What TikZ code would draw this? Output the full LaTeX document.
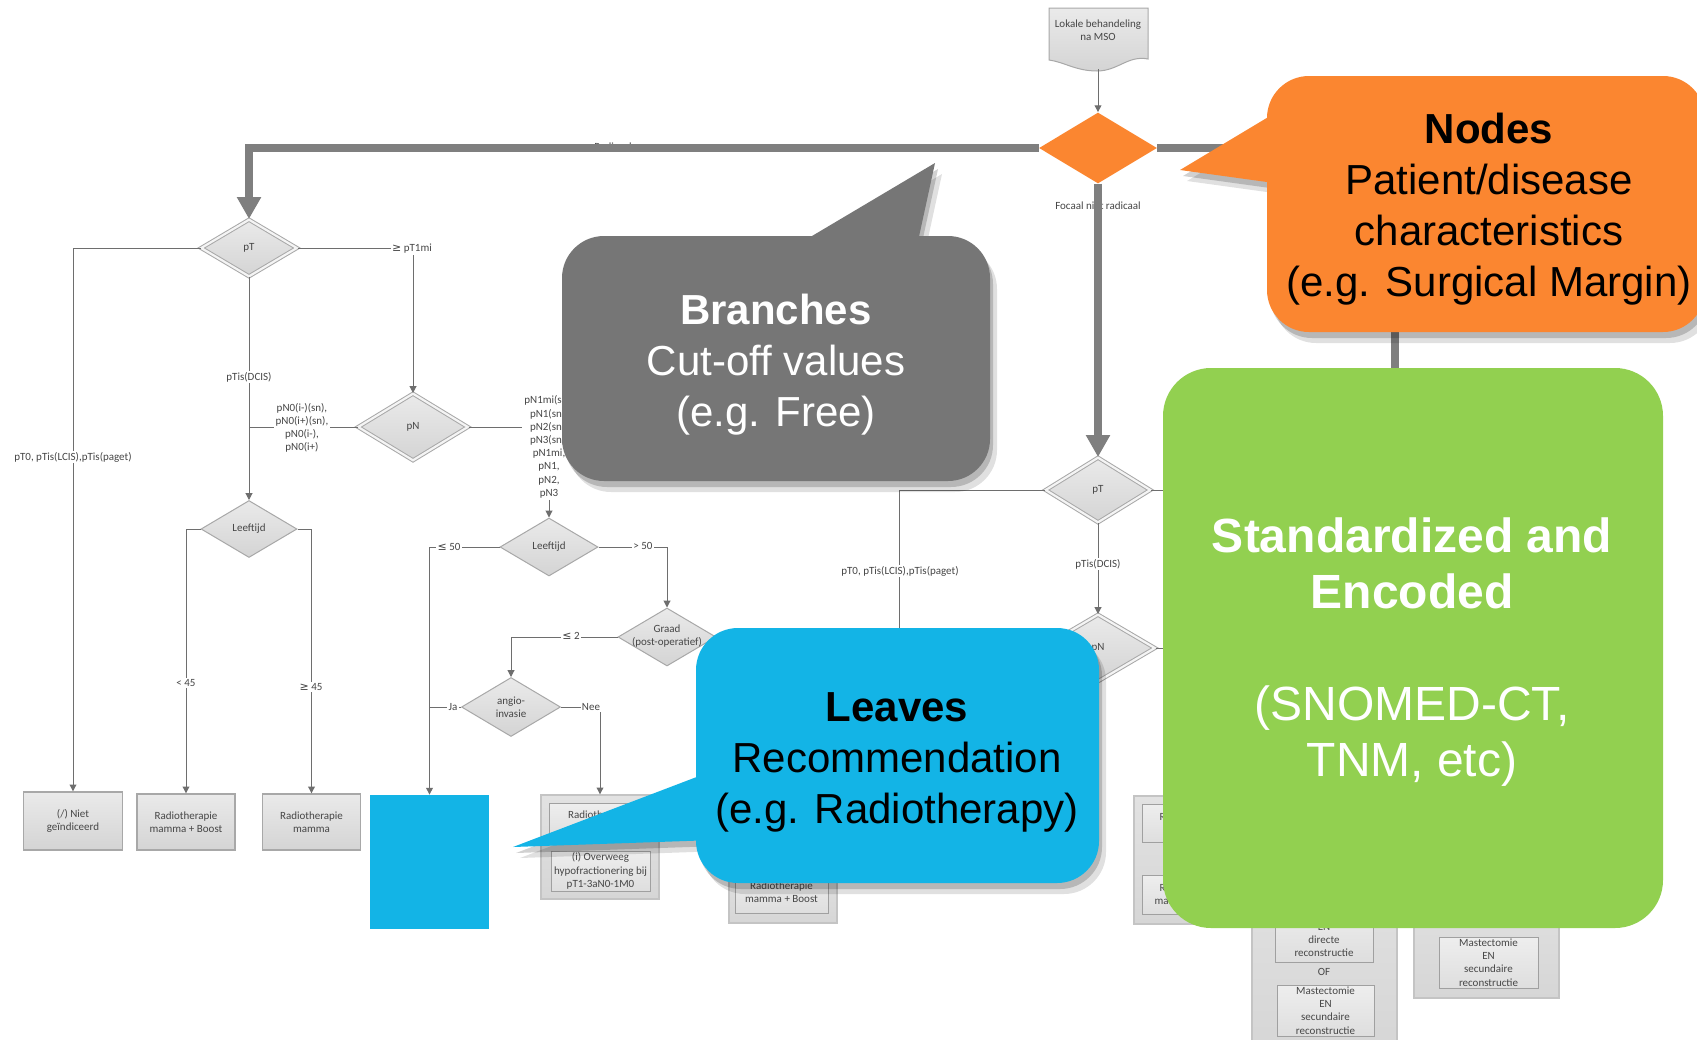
\documentclass[tikz,border=0pt]{standalone}
\usepackage{fontspec}
\setmainfont{Liberation Sans}
\newfontfamily\fcfont{Carlito}
\newfontfamily\symfont{DejaVu Sans}
\usetikzlibrary{shapes.geometric,arrows.meta}
\definecolor{cOrange}{RGB}{251,134,48}
\definecolor{cGrey}{RGB}{118,118,118}
\definecolor{cBlue}{RGB}{19,180,230}
\definecolor{cGreen}{RGB}{146,208,80}
\definecolor{cThick}{RGB}{127,127,127}
\definecolor{cLine}{RGB}{110,110,110}
\definecolor{cTxt}{RGB}{70,70,70}
\definecolor{cFillTop}{RGB}{234,234,234}
\definecolor{cFillBot}{RGB}{212,212,212}
\definecolor{cBord}{RGB}{168,168,168}
\definecolor{cDbl}{RGB}{244,244,244}
\definecolor{cITop}{RGB}{238,238,238}
\definecolor{cIBot}{RGB}{222,222,222}
\definecolor{cIBord}{RGB}{160,160,160}
\definecolor{cOTop}{RGB}{226,226,226}
\definecolor{cOBot}{RGB}{214,214,214}
\definecolor{cOBord}{RGB}{196,196,196}
\newcommand{\mygeq}{{\symfont ≥}}
\newcommand{\myleq}{{\symfont ≤}}
\newcommand{\greyshape}[1]{\fill[#1,rounded corners=21pt] (562,236) rectangle (990,481);\fill[#1] (780,255) -- (935,163) -- (915,255) -- cycle;}
\newcommand{\blueshape}[1]{\fill[#1,rounded corners=21pt] (696,628) rectangle (1099,883);\fill[#1] (715,770) -- (513,847) -- (715,840) -- cycle;}
\newcommand{\orangeshape}[1]{\fill[#1,rounded corners=21pt] (1267,76) rectangle (1705,332);\fill[#1] (1285,107) -- (1180,170) -- (1285,184.5) -- cycle;}
\newcommand{\shadowof}[1]{%
  \begin{scope}[transparency group, opacity=0.12]\begin{scope}[shift={(7,11)}]#1{black}\end{scope}\end{scope}%
  \begin{scope}[transparency group, opacity=0.18]\begin{scope}[shift={(3,6)}]#1{black}\end{scope}\end{scope}}
\begin{document}
\begin{tikzpicture}[x=0.5pt,y=-0.5pt,
  fctext/.style={font=\fcfont\fontsize{5.5}{6.6}\selectfont, text=cTxt, align=center},
  lbl/.style={fctext, fill=white, inner sep=0.7pt},
  dia/.style={diamond, draw=cBord, line width=0.5pt, top color=cFillTop, bottom color=cFillBot, inner sep=0pt},
  ddia/.style={dia, double=cDbl, double distance=1.1pt},
  leaf/.style={rectangle, fctext, draw=cBord, line width=0.7pt, top color=cFillTop, bottom color=cFillBot, inner sep=0pt},
  obox/.style={rectangle, draw=cOBord, line width=0.7pt, top color=cOTop, bottom color=cOBot, inner sep=0pt},
  ibox/.style={rectangle, fctext, draw=cIBord, line width=0.5pt, top color=cITop, bottom color=cIBot, inner sep=0pt},
  conn/.style={draw=cLine, line width=0.5pt, -{Triangle[width=3.4pt,length=3.4pt]}},
  plain/.style={draw=cLine, line width=0.5pt},
  bigline/.style={draw=cThick, line width=4pt},
  bigarrow/.style={bigline, -{Triangle[width=11.5pt,length=11pt]}},
  callout/.style={font=\fontsize{21}{25.5}\selectfont, align=center, inner sep=0pt},
]
\useasboundingbox (0,0) rectangle (1697,1039);
\clip (0,0) rectangle (1697,1039);
\fill[white] (0,0) rectangle (1697,1039);

% ---------- start document shape ----------
\path[draw=cBord, line width=0.5pt, top color=cFillTop, bottom color=cFillBot]
  (1049,8) -- (1148,8) -- (1148,59) .. controls (1128,55) and (1118,71) .. (1097,71)
  .. controls (1076,71) and (1064,62) .. (1049,60) -- cycle;
\node[fctext] (doc) at (1098,30.5) {Lokale behandeling\\na MSO};
\coordinate (docb) at (1098,69);

% ---------- diamonds ----------
\node[diamond, fill=cOrange, minimum width=59pt, minimum height=35.5pt, inner sep=0pt] (orng) at (1098,148) {};
\node[ddia, minimum width=48pt, minimum height=28.5pt] (pTa) at (249,248) {};
\node[fctext] (pTaT) at (pTa) {pT};
\node[ddia, minimum width=55pt, minimum height=33.5pt] (pNa) at (413,427) {};
\node[fctext] (pNaT) at (pNa) {pN};
\node[dia, minimum width=48pt, minimum height=28.5pt] (leefa) at (249,529) {};
\node[fctext] (leefaT) at (leefa) {Leeftijd};
\node[dia, minimum width=49pt, minimum height=29pt] (leefb) at (549,547) {};
\node[fctext] (leefbT) at (leefb) {Leeftijd};
\node[dia, minimum width=49pt, minimum height=29pt] (graad) at (667,637) {};
\node[fctext] (graadT) at (667,636) {Graad\\(post-operatief)};
\node[dia, minimum width=49.5pt, minimum height=29.5pt] (angio) at (511,707) {};
\node[fctext] (angioT) at (angio) {angio-\\invasie};
\node[ddia, minimum width=52.5pt, minimum height=32.5pt] (pTb) at (1098,490) {};
\node[fctext] (pTbT) at (pTb) {pT};
\node[ddia, minimum width=57pt, minimum height=33.5pt] (pNb) at (1098,648) {};
\node[fctext] (pNbT) at (pNb) {pN};

% ---------- leaves ----------
\node[leaf, minimum width=49.25pt, minimum height=29pt] (niet) at (73,821) {(/) Niet\\geïndiceerd};
\node[leaf, minimum width=49pt, minimum height=28pt] (rtb) at (186,822) {Radiotherapie\\mamma + Boost};
\node[leaf, minimum width=49.25pt, minimum height=28pt] (rtm) at (311.5,822) {Radiotherapie\\mamma};
\node[obox, minimum width=59pt, minimum height=52pt] (hypo) at (600,847) {};
\node[ibox, minimum width=50.5pt, minimum height=18pt] (hypoA) at (599.5,821) {Radiotherapie\\mamma};
\node[ibox, minimum width=49.5pt, minimum height=20pt] (hypoB) at (600.5,871) {(i) Overweeg\\hypofractionering bij\\pT1-3aN0-1M0};
\node[obox, minimum width=54pt, minimum height=28.5pt] (bst) at (783,894.5) {};
\node[ibox, minimum width=46.5pt, minimum height=20.5pt] (bstI) at (781.5,892.5) {Radiotherapie\\mamma + Boost};
\node[obox, minimum width=58pt, minimum height=64pt] (bc) at (1192,860) {};
\node[ibox, minimum width=49pt, minimum height=19pt] (bcA) at (1191,823) {Radiotherapie\\mamma};
\node[ibox, minimum width=49pt, minimum height=19.5pt] (bcB) at (1191,894.5) {Radiotherapie\\mamma + Boost};
\node[obox, minimum width=72.5pt, minimum height=95pt] (ba) at (1324.5,955) {};
\node[ibox, minimum width=49pt, minimum height=29pt] (baA) at (1324,933) {Mastectomie\\EN\\directe\\reconstructie};
\node[fctext] (baOF) at (1324,972) {OF};
\node[ibox, minimum width=48.5pt, minimum height=25.5pt] (baB) at (1325.5,1010.5) {Mastectomie\\EN\\secundaire\\reconstructie};
\node[obox, minimum width=72.5pt, minimum height=59pt] (bb) at (1486.5,939) {};
\node[fctext] (bbOF) at (1488,921) {OF};
\node[ibox, minimum width=49.5pt, minimum height=25.5pt] (bbA) at (1488.5,962.5) {Mastectomie\\EN\\secundaire\\reconstructie};
\node[fill=cBlue, minimum width=59.5pt, minimum height=67pt, inner sep=0pt] (bsq) at (429.5,862) {};

% ---------- thin connectors ----------
\coordinate (pnj) at (522,427);
\coordinate (ptbend) at (899,720);
\coordinate (ptbr) at (1200,490);
\coordinate (pnbr) at (1200,648);
\draw[conn] (docb) -- (orng.north);
\draw[conn] (pTa.west) -| (niet.north);
\draw[conn] (pTa.east) -| (pNa.north);
\draw[conn] (pTa.south) -- (leefa.north);
\draw[plain] (pNa.west) -- (pNa.west -| leefa.north);
\draw[plain] (pNa.east) -- (pnj);
\draw[conn] (leefa.west) -| (rtb.north);
\draw[conn] (leefa.east) -| (rtm.north);
\draw[conn] (leefb.west) -| (bsq.north);
\draw[conn] (leefb.east) -| (graad.north);
\draw[conn] (graad.west) -| (angio.north);
\draw[plain] (angio.west) -- (angio.west -| bsq.north);
\draw[conn] (angio.east) -| (hypo.north);
\draw[plain] (pTb.west) -| (ptbend);
\draw[conn] (pTb.south) -- (pNb.north);
\draw[plain] (pTb.east) -- (ptbr);
\draw[plain] (pNb.east) -- (pnbr);

% ---------- branch labels ----------
\node[lbl] (l1) at (73,457) {pT0, pTis(LCIS),pTis(paget)};
\node[lbl] (l2) at (412,249) {\mygeq\ pT1mi};
\node[lbl] (l3) at (249,377) {pTis(DCIS)};
\node[lbl] (l4) at (302,428) {pN0(i-)(sn),\\pN0(i+)(sn),\\pN0(i-),\\pN0(i+)};
\node[lbl] (pnlab) at (549,447) {pN1mi(sn),\\pN1(sn),\\pN2(sn),\\pN3(sn),\\pN1mi,\\pN1,\\pN2,\\pN3};
\draw[conn] (pnlab.south -| leefb.north) -- (leefb.north);
\node[lbl] (l5) at (186,683) {< 45};
\node[lbl] (l6) at (311,687) {\mygeq\ 45};
\node[lbl] (l7) at (449,547) {\myleq\ 50};
\node[lbl] (l8) at (643,546) {> 50};
\node[lbl] (l9) at (571,636) {\myleq\ 2};
\node[lbl] (l10) at (453,707) {Ja};
\node[lbl] (l11) at (591,707) {Nee};
\node[lbl] (l12) at (900,571) {pT0, pTis(LCIS),pTis(paget)};
\node[lbl] (l13) at (1098,564) {pTis(DCIS)};
\node[fctext] (lrad) at (613,146.5) {Radicaal};
\node[fctext] (lfoc) at (1098,206) {Focaal niet radicaal};

% ---------- thick connectors ----------
\coordinate (rbend) at (1395,420);
\draw[bigarrow] (orng.west) -| (pTa.north);
\draw[bigarrow] (orng.south) -- (pTb.north);
\draw[bigline] (orng.east) -| (rbend);

% ---------- callouts ----------
\shadowof{\greyshape}
\greyshape{cGrey}
\node[callout, text=white] (tgrey) at (776,365) {\textbf{Branches}\\Cut-off values\\(e.g. Free)};

\shadowof{\blueshape}
\blueshape{cBlue}
\node[callout, text=black] (tblue) at (897,762) {\textbf{Leaves}\\Recommendation\\(e.g. Radiotherapy)};

\shadowof{\orangeshape}
\orangeshape{cOrange}
\node[callout, text=black] (torange) at (1489,209) {\textbf{Nodes}\\Patient/disease\\characteristics\\(e.g. Surgical Margin)};

\fill[cGreen, rounded corners=24pt] (1163,368) rectangle (1663,928);
\node[font=\fontsize{24}{28}\selectfont, align=center, text=white, inner sep=0pt] (tgreen) at (1412,652)
  {\textbf{Standardized and}\\\textbf{Encoded}\\[28pt](SNOMED-CT,\\TNM, etc)};
\end{tikzpicture}
\end{document}
